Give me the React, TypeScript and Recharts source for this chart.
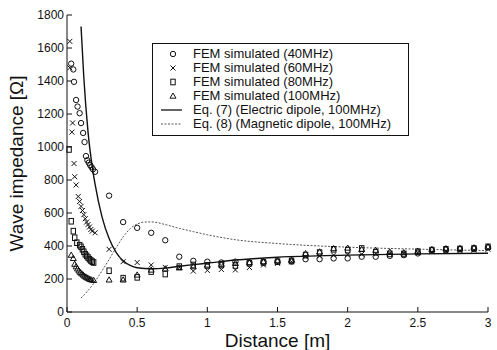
import React from 'react';
import { ComposedChart, Line, Scatter, XAxis, YAxis } from 'recharts';

type Pt = [number, number];

const xTicks = [0, 0.5, 1, 1.5, 2, 2.5, 3];
const yTicks = [0, 200, 400, 600, 800, 1000, 1200, 1400, 1600, 1800];

// FEM simulated, [distance m, impedance ohm]
const fem40: Pt[] = [
  [0.03, 1505], [0.045, 1470], [0.05, 1395], [0.065, 1285], [0.075, 1245], [0.09, 1205],
  [0.1, 1145], [0.115, 1085], [0.125, 1030], [0.135, 945], [0.145, 920], [0.155, 905],
  [0.165, 890], [0.175, 878], [0.185, 865], [0.2, 850], [0.3, 705], [0.4, 545], [0.5, 510],
  [0.6, 480], [0.7, 435], [0.8, 335], [0.9, 310], [1.0, 305], [1.1, 300], [1.2, 305],
  [1.3, 300], [1.4, 305], [1.5, 305], [1.6, 305], [1.7, 320], [1.8, 320], [1.9, 325],
  [2.0, 325], [2.1, 335], [2.2, 335], [2.3, 340], [2.4, 345], [2.5, 355], [2.6, 375],
  [2.7, 378], [2.8, 382], [2.9, 385], [3.0, 392],
];
const fem60: Pt[] = [
  [0.02, 1640], [0.02, 1480], [0.04, 1146], [0.035, 1090], [0.05, 900], [0.055, 820],
  [0.065, 770], [0.08, 700], [0.09, 670], [0.1, 640], [0.11, 615], [0.12, 590], [0.13, 565],
  [0.14, 545], [0.15, 530], [0.16, 515], [0.17, 500], [0.18, 490], [0.2, 480], [0.3, 380],
  [0.4, 305], [0.5, 300], [0.6, 285], [0.7, 270], [0.8, 270], [0.9, 248], [1.0, 252],
  [1.1, 258], [1.2, 255], [1.3, 270], [1.4, 285], [1.5, 295], [1.6, 305], [1.7, 335],
  [1.8, 340], [1.9, 345], [2.0, 350], [2.1, 350], [2.2, 352], [2.3, 355], [2.4, 355],
  [2.5, 360], [2.6, 365], [2.7, 370], [2.8, 372], [2.9, 375], [3.0, 380],
];
const fem80: Pt[] = [
  [0.015, 985], [0.03, 550], [0.045, 490], [0.055, 450], [0.07, 420], [0.09, 405], [0.1, 395],
  [0.11, 380], [0.12, 365], [0.13, 350], [0.14, 340], [0.15, 330], [0.16, 320], [0.17, 312],
  [0.18, 305], [0.19, 300], [0.3, 250], [0.4, 205], [0.5, 210], [0.6, 245], [0.7, 230],
  [0.8, 275], [0.9, 285], [1.0, 282], [1.1, 285], [1.2, 282], [1.3, 295], [1.4, 300],
  [1.5, 305], [1.6, 310], [1.7, 345], [1.8, 360], [1.9, 380], [2.0, 375], [2.1, 385],
  [2.2, 362], [2.3, 352], [2.4, 352], [2.5, 365], [2.6, 375], [2.7, 380], [2.8, 382],
  [2.9, 385], [3.0, 395],
];
const fem100: Pt[] = [
  [0.03, 345], [0.045, 325], [0.055, 290], [0.065, 275], [0.075, 262], [0.085, 250],
  [0.095, 240], [0.105, 232], [0.115, 225], [0.125, 218], [0.135, 212], [0.145, 207],
  [0.155, 202], [0.165, 198], [0.175, 195], [0.19, 192], [0.3, 195], [0.4, 195], [0.5, 225],
  [0.6, 255], [0.7, 262], [0.8, 268], [0.9, 275], [1.0, 285], [1.1, 290], [1.2, 295],
  [1.3, 300], [1.4, 305], [1.5, 310], [1.6, 315], [1.7, 355], [1.8, 365], [1.9, 385],
  [2.0, 388], [2.1, 380], [2.2, 375], [2.3, 365], [2.4, 360], [2.5, 370], [2.6, 380],
  [2.7, 385], [2.8, 386], [2.9, 390], [3.0, 395],
];

// Eq. (7) and Eq. (8) at 100 MHz
const electric: Pt[] = [
  [0.1, 1730], [0.12, 1420], [0.15, 1090], [0.18, 880], [0.2, 775], [0.25, 575], [0.3, 445],
  [0.35, 362], [0.4, 310], [0.45, 282], [0.5, 268], [0.6, 262], [0.7, 266], [0.8, 277],
  [0.9, 287], [1.0, 296], [1.2, 315], [1.5, 332], [2.0, 345], [2.5, 352], [3.0, 356],
];
const magnetic: Pt[] = [
  [0.1, 85], [0.15, 130], [0.2, 185], [0.25, 250], [0.3, 318], [0.35, 390], [0.4, 455],
  [0.45, 505], [0.5, 533], [0.55, 545], [0.6, 546], [0.7, 530], [0.8, 507], [0.9, 487],
  [1.0, 468], [1.2, 438], [1.5, 415], [2.0, 393], [2.5, 381], [3.0, 372],
];

const legendLabels = [
  'FEM simulated (40MHz)',
  'FEM simulated (60MHz)',
  'FEM simulated (80MHz)',
  'FEM simulated (100MHz)',
  'Eq. (7) (Electric dipole, 100MHz)',
  'Eq. (8) (Magnetic dipole, 100MHz)',
];

const toObj = (pts: Pt[]) => pts.map(([x, y]) => ({ x, y }));

const FONT = '"Liberation Sans", Arial, Helvetica, sans-serif';
const INK = '#111';

const Circle = ({ cx, cy }: any) => <circle cx={cx} cy={cy} r={2.7} fill="none" stroke={INK} strokeWidth={1} />;
const Cross = ({ cx, cy }: any) => (
  <path d={`M${cx - 2.5},${cy - 2.5}L${cx + 2.5},${cy + 2.5}M${cx - 2.5},${cy + 2.5}L${cx + 2.5},${cy - 2.5}`} stroke={INK} strokeWidth={1} />
);
const Square = ({ cx, cy }: any) => <rect x={cx - 2.2} y={cy - 2.8} width={4.4} height={5.6} fill="none" stroke={INK} strokeWidth={1} />;
const Triangle = ({ cx, cy }: any) => (
  <path d={`M${cx},${cy - 3}L${cx + 3},${cy + 2.2}L${cx - 3},${cy + 2.2}Z`} fill="none" stroke={INK} strokeWidth={1} />
);

const fmt = (v: number) => String(v);

const BottomTick = ({ x, y, payload }: any) => (
  <g>
    <line x1={x} x2={x} y1={y} y2={y - 5} stroke={INK} />
    <text x={x} y={y + 15} textAnchor="middle" fontSize={12} fontFamily={FONT} fill={INK}>
      {fmt(payload.value)}
    </text>
  </g>
);
const LeftTick = ({ x, y, payload }: any) => (
  <g>
    <line x1={x} x2={x + 5} y1={y} y2={y} stroke={INK} />
    <text x={x - 3} y={y + 4} textAnchor="end" fontSize={12} fontFamily={FONT} fill={INK}>
      {fmt(payload.value)}
    </text>
  </g>
);
const TopTick = ({ x, y }: any) => <line x1={x} x2={x} y1={y} y2={y + 5} stroke={INK} />;
const RightTick = ({ x, y }: any) => <line x1={x} x2={x - 5} y1={y} y2={y} stroke={INK} />;

const markers = [Circle, Cross, Square, Triangle];

function LegendBox() {
  return (
    <div
      style={{
        position: 'absolute',
        left: 152,
        top: 43,
        width: 255,
        border: `1px solid ${INK}`,
        background: '#fff',
        padding: '3px 0 4px 0',
        fontFamily: FONT,
        fontSize: 13,
        color: INK,
      }}
    >
      {legendLabels.map((label, i) => (
        <div key={label} style={{ height: 14, lineHeight: '14px', display: 'flex', alignItems: 'center' }}>
          <svg width={40} height={14} style={{ flex: 'none' }}>
            {i < 4 &&
              React.createElement(markers[i], { cx: 20, cy: 7 })}
            {i === 4 && <line x1={8} x2={29} y1={7} y2={7} stroke={INK} strokeWidth={1.3} />}
            {i === 5 && <line x1={8} x2={29} y1={7} y2={7} stroke="#555" strokeWidth={1} strokeDasharray="2 1.5" />}
          </svg>
          <span style={{ whiteSpace: 'nowrap' }}>{label}</span>
        </div>
      ))}
    </div>
  );
}

export default function App() {
  return (
    <div style={{ position: 'absolute', left: 0, top: 0, width: 497, height: 350, background: '#fff' }}>
      <ComposedChart width={497} height={350} margin={{ top: 15, right: 9, bottom: 0, left: 0 }}>
        <XAxis
          xAxisId="b"
          dataKey="x"
          type="number"
          domain={[0, 3]}
          ticks={xTicks}
          interval={0}
          height={38}
          tickSize={0}
          tickMargin={0}
          tick={<BottomTick />}
          axisLine={{ stroke: INK }}
          label={{ value: 'Distance [m]', position: 'insideBottom', offset: 3, fontSize: 19, fill: INK, fontFamily: FONT }}
        />
        <XAxis
          xAxisId="t"
          orientation="top"
          dataKey="x"
          type="number"
          domain={[0, 3]}
          ticks={xTicks}
          interval={0}
          height={0}
          tickSize={0}
          tickMargin={0}
          tick={<TopTick />}
          axisLine={{ stroke: INK }}
        />
        <YAxis
          yAxisId="l"
          type="number"
          domain={[0, 1800]}
          ticks={yTicks}
          interval={0}
          width={67}
          tickSize={0}
          tickMargin={0}
          tick={<LeftTick />}
          axisLine={{ stroke: INK }}
          label={{ value: 'Wave impedance [Ω]', angle: -90, position: 'insideLeft', offset: 16, fontSize: 19, fill: INK, fontFamily: FONT, style: { textAnchor: 'middle' } }}
        />
        <YAxis
          yAxisId="r"
          orientation="right"
          type="number"
          domain={[0, 1800]}
          ticks={yTicks}
          interval={0}
          width={0}
          tickSize={0}
          tickMargin={0}
          tick={<RightTick />}
          axisLine={{ stroke: INK }}
        />
        <Line xAxisId="b" yAxisId="l" data={toObj(magnetic)} dataKey="y" type="monotone" stroke="#555" strokeWidth={1} strokeDasharray="2 1.5" dot={false} isAnimationActive={false} />
        <Line xAxisId="b" yAxisId="l" data={toObj(electric)} dataKey="y" type="monotone" stroke={INK} strokeWidth={1.4} dot={false} isAnimationActive={false} />
        <Scatter xAxisId="b" yAxisId="l" data={toObj(fem40)} dataKey="y" shape={Circle} isAnimationActive={false} />
        <Scatter xAxisId="b" yAxisId="l" data={toObj(fem60)} dataKey="y" shape={Cross} isAnimationActive={false} />
        <Scatter xAxisId="b" yAxisId="l" data={toObj(fem80)} dataKey="y" shape={Square} isAnimationActive={false} />
        <Scatter xAxisId="b" yAxisId="l" data={toObj(fem100)} dataKey="y" shape={Triangle} isAnimationActive={false} />
      </ComposedChart>
      <LegendBox />
    </div>
  );
}
